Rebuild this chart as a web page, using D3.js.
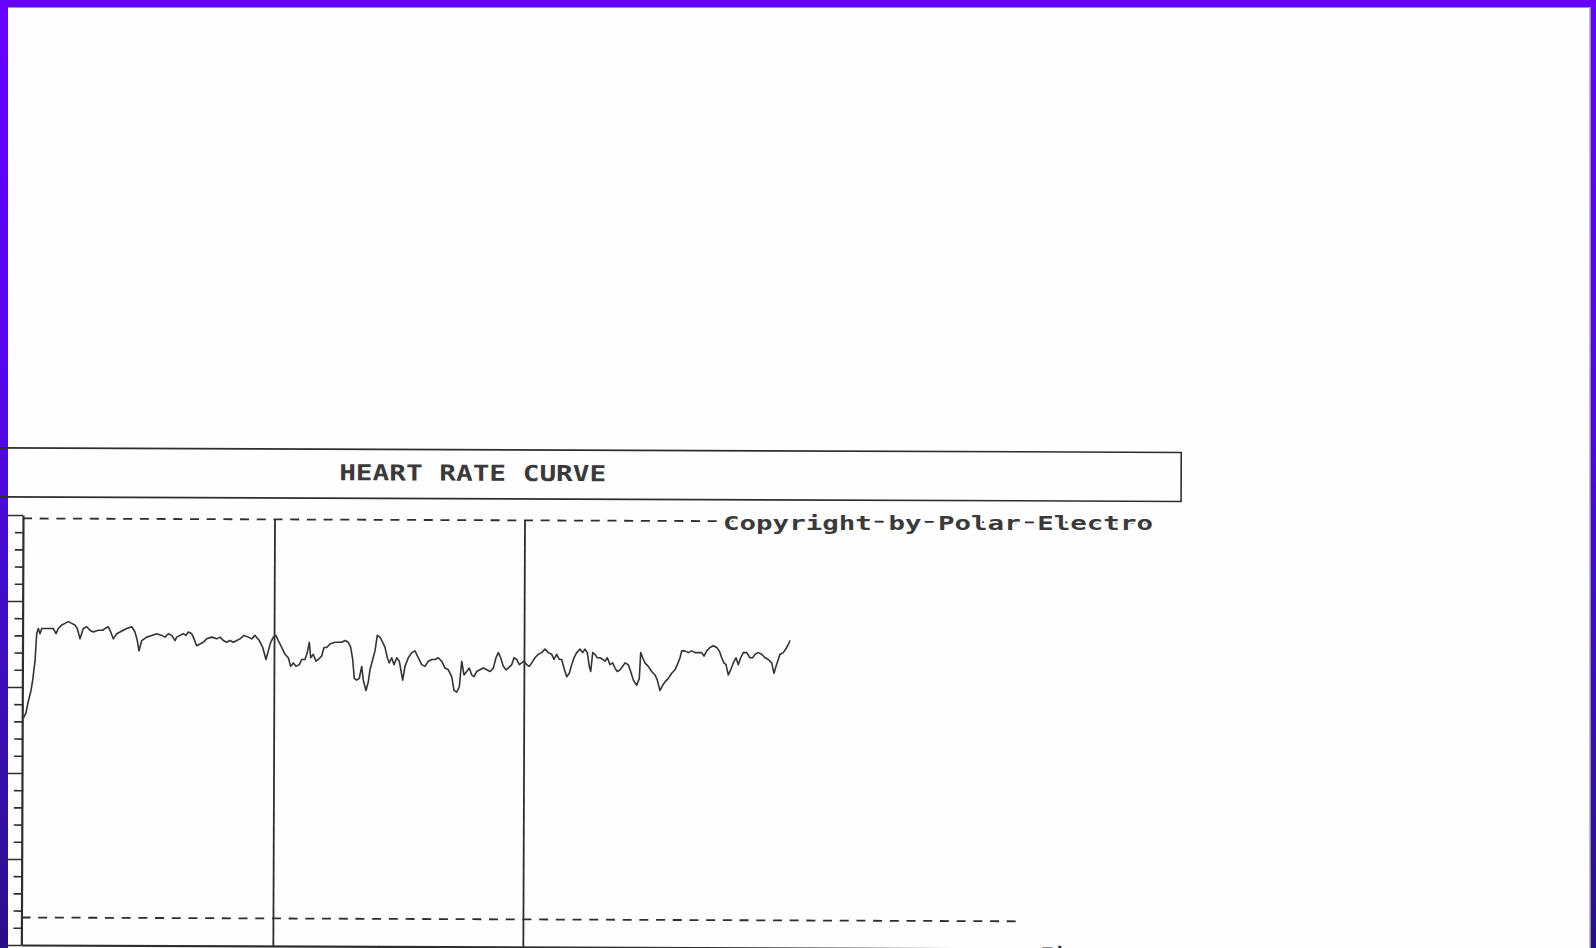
<!DOCTYPE html>
<html>
<head>
<meta charset="utf-8">
<script src="https://cdn.jsdelivr.net/npm/d3@7"></script>
<style>
  html, body { margin: 0; padding: 0; background: #fff; }
  svg { display: block; }
</style>
</head>
<body>
<svg id="chart" width="1596" height="948"></svg>
<script>
// Recording time (minutes) and heart rate (bpm) samples
const timeMin = [
  0.05, 0.30, 0.50, 0.80, 0.97, 1.20, 1.37, 1.53, 1.70, 1.87, 2.20, 2.70, 3.03, 3.30, 3.53, 3.87,
  4.20, 4.53, 4.87, 5.20, 5.43, 5.70, 6.03, 6.37, 6.70, 7.03, 7.53, 7.97, 8.20, 8.53, 8.77, 9.03,
  9.37, 9.70, 10.03, 10.37, 10.87, 11.20, 11.43, 11.60, 11.87, 12.37, 12.87, 13.37, 13.87, 14.20,
  14.53, 14.87, 15.20, 15.37, 15.70, 16.03, 16.30, 16.53, 16.87, 17.03, 17.37, 17.70, 18.03, 18.37,
  18.87, 19.37, 19.70, 20.03, 20.37, 20.70, 21.03, 21.37, 21.70, 22.10, 22.53, 22.87, 23.20, 23.63,
  23.97, 24.30, 24.53, 24.77, 25.03, 25.30, 25.53, 25.87, 26.20, 26.53, 26.77, 27.03, 27.30, 27.63,
  27.87, 28.20, 28.43, 28.63, 28.77, 29.03, 29.30, 29.53, 29.87, 30.10, 30.37, 30.70, 31.20, 31.53,
  31.87, 32.20, 32.53, 32.77, 32.97, 33.13, 33.37, 33.63, 33.87, 34.03, 34.30, 34.53, 34.70, 34.97,
  35.20, 35.43, 35.70, 35.97, 36.20, 36.43, 36.63, 36.87, 37.10, 37.37, 37.63, 37.87, 37.97, 38.20,
  38.53, 38.87, 39.20, 39.53, 39.87, 40.20, 40.53, 40.87, 41.20, 41.53, 41.87, 42.20, 42.53, 42.87,
  43.10, 43.37, 43.63, 43.87, 44.10, 44.37, 44.63, 44.87, 45.10, 45.37, 45.70, 46.03, 46.37, 46.70,
  47.03, 47.30, 47.53, 47.77, 48.03, 48.30, 48.53, 48.87, 49.10, 49.37, 49.63, 49.87, 50.10, 50.37,
  50.63, 50.87, 51.20, 51.53, 51.87, 52.20, 52.53, 52.87, 53.10, 53.37, 53.63, 53.87, 54.10, 54.37,
  54.63, 54.87, 55.10, 55.37, 55.70, 55.97, 56.20, 56.43, 56.63, 56.77, 56.97, 57.20, 57.43, 57.70,
  57.97, 58.20, 58.43, 58.70, 58.97, 59.20, 59.43, 59.70, 59.97, 60.20, 60.53, 60.77, 61.03, 61.37,
  61.63, 61.77, 61.97, 62.20, 62.53, 62.87, 63.20, 63.43, 63.70, 63.97, 64.20, 64.53, 64.87, 65.20,
  65.43, 65.70, 65.87, 66.20, 66.53, 66.87, 67.20, 67.53, 67.87, 68.10, 68.37, 68.70, 69.03, 69.37,
  69.63, 69.87, 70.10, 70.30, 70.53, 70.77, 71.03, 71.30, 71.53, 71.77, 72.03, 72.37, 72.70, 72.97,
  73.20, 73.53, 73.87, 74.20, 74.53, 74.87, 75.10, 75.30, 75.53, 75.70, 76.03, 76.37, 76.63, 76.70
];
const heartRate = [
  132, 135, 141, 148, 154, 165, 181, 184, 181, 184, 184, 184, 184, 181, 184, 186,
  187, 188, 187, 186, 184, 178, 184, 185, 183, 182, 183, 183, 184, 185, 182, 178,
  181, 182, 183, 184, 185, 182, 177, 171, 177, 179, 180, 181, 180, 179,
  181, 180, 177, 179, 180, 181, 180, 182, 181, 179, 174, 175, 176, 178,
  179, 178, 179, 177, 176, 177, 176, 177, 178, 180, 179, 178, 180, 177,
  173, 166, 171, 176, 179, 180, 177, 173, 169, 167, 162, 164, 162, 163,
  166, 166, 170, 176, 167, 169, 165, 166, 168, 173, 173, 175, 176, 176,
  176, 177, 176, 173, 166, 155, 154, 155, 162, 154, 148, 153, 160, 166,
  171, 180, 179, 176, 173, 167, 164, 167, 163, 167, 165, 157, 154, 162,
  167, 170, 171, 167, 163, 162, 165, 166, 166, 167, 165, 161, 160, 156,
  148, 147, 150, 165, 157, 159, 161, 157, 156, 159, 160, 161, 160, 159,
  161, 167, 170, 167, 162, 160, 161, 163, 167, 166, 163, 164, 165, 163,
  162, 164, 167, 169, 170, 172, 170, 169, 166, 169, 166, 166, 161, 156,
  158, 163, 167, 170, 172, 170, 172, 170, 162, 159, 170, 169, 167, 167,
  166, 165, 167, 163, 164, 161, 159, 160, 162, 164, 163, 159, 154, 151,
  155, 170, 167, 164, 162, 159, 157, 154, 148, 151, 153, 155, 158, 160,
  163, 167, 171, 171, 170, 171, 170, 170, 170, 168, 171, 173, 174, 173,
  171, 167, 164, 163, 157, 160, 164, 167, 163, 167, 170, 170, 167, 167,
  169, 170, 169, 167, 166, 164, 158, 162, 166, 169, 170, 173, 176, 177
];

// Lap markers (minutes) and the target zone limits (bpm)
const lapMarks = [25.2, 50.2];
const upperLimit = 248;
const lowerLimit = 16;

// Axis ranges
const timeDomain = [0, 100];
const hrDomain = [0, 250];
const hrTickStep = 10;
const hrMajorStep = 50;

// Printed labels
const titleText = "HEART RATE CURVE";
const copyrightText = "Copyright by Polar Electro";
const xAxisLabel = "Time";

const W = 1596, H = 948;
const ink = "#2e2e2e";
const svg = d3.select("#chart");

// --- scanned page background -------------------------------------------
const defs = svg.append("defs");
const grad = defs.append("linearGradient")
  .attr("id", "frameGrad").attr("x1", 0).attr("y1", 0).attr("x2", 0).attr("y2", 1);
[[0, "#6600ff"], [0.4, "#5406ea"], [0.7, "#3d0fbe"], [1, "#27108a"]].forEach(([o, c]) =>
  grad.append("stop").attr("offset", o).attr("stop-color", c));

svg.append("rect").attr("width", W).attr("height", H).attr("fill", "url(#frameGrad)");
svg.append("rect").attr("x", 0).attr("y", 0).attr("width", W).attr("height", 7).attr("fill", "#6600ff");

// paper sheet
svg.append("rect")
  .attr("x", 8).attr("y", 7).attr("width", 1582).attr("height", H - 7)
  .attr("fill", "#fefefe");
svg.append("line").attr("x1", 8).attr("x2", 1590).attr("y1", 7.5).attr("y2", 7.5)
  .attr("stroke", "#9a9a9a").attr("stroke-width", 1);
svg.append("line").attr("x1", 1590).attr("x2", 1590).attr("y1", 7).attr("y2", H)
  .attr("stroke", "#b0b0b0").attr("stroke-width", 1.5);

// --- chart ----------------------------------------------------------------
const plot = { left: 23, right: 1023, top: 515, bottom: 945 };
const x = d3.scaleLinear().domain(timeDomain).range([plot.left, plot.right]);
const y = d3.scaleLinear().domain(hrDomain).range([plot.bottom, plot.top]);

// the ruled frame of the printout sits very slightly askew on the page
const g = svg.append("g").attr("transform", `rotate(0.22, ${plot.left}, ${plot.top})`);

// title box
g.append("rect")
  .attr("x", -4).attr("y", 448).attr("width", 1185).attr("height", 49)
  .attr("fill", "none").attr("stroke", ink).attr("stroke-width", 1.6);
g.append("text")
  .attr("x", 339).attr("y", 479)
  .attr("textLength", 267).attr("lengthAdjust", "spacingAndGlyphs")
  .attr("font-family", "'DejaVu Sans Mono', monospace")
  .attr("font-weight", "bold").attr("font-size", 22)
  .attr("fill", "#3a3a3a")
  .text(titleText);

// limit lines
g.append("line")
  .attr("x1", x(0)).attr("x2", 1150)
  .attr("y1", y(upperLimit)).attr("y2", y(upperLimit))
  .attr("stroke", ink).attr("stroke-width", 1.8).attr("stroke-dasharray", "9,7.7");
g.append("line")
  .attr("x1", x(0)).attr("x2", x(100))
  .attr("y1", y(lowerLimit)).attr("y2", y(lowerLimit))
  .attr("stroke", ink).attr("stroke-width", 1.8).attr("stroke-dasharray", "9,7.7");

// lap markers
g.selectAll("line.lap").data(lapMarks).join("line")
  .attr("class", "lap")
  .attr("x1", d => x(d)).attr("x2", d => x(d))
  .attr("y1", y(upperLimit)).attr("y2", plot.bottom)
  .attr("stroke", ink).attr("stroke-width", 1.8);

// y axis with a longer tick every 50 bpm
const yTicks = d3.range(hrDomain[0], hrDomain[1] + 1, hrTickStep);
const yAxis = g.append("g")
  .attr("transform", `translate(${plot.left},0)`)
  .call(d3.axisLeft(y).tickValues(yTicks).tickFormat("").tickSizeOuter(0));
yAxis.select(".domain").attr("stroke", ink).attr("stroke-width", 2.2);
yAxis.selectAll(".tick line")
  .attr("x2", d => d % hrMajorStep === 0 ? -16 : -8)
  .attr("stroke", ink).attr("stroke-width", 1.6);

// time axis
const xAxis = g.append("g")
  .attr("transform", `translate(0,${plot.bottom})`)
  .call(d3.axisBottom(x).tickValues([]).tickSizeOuter(0));
xAxis.select(".domain").attr("stroke", ink).attr("stroke-width", 2.2);

g.append("text")
  .attr("x", 1043).attr("y", 958)
  .attr("font-family", "'DejaVu Sans Mono', monospace").attr("font-weight", "bold")
  .attr("font-size", 20).attr("fill", "#333")
  .text(xAxisLabel);

// copyright note printed over the upper limit line
svg.append("text")
  .attr("x", 723).attr("y", 530)
  .attr("textLength", 430).attr("lengthAdjust", "spacingAndGlyphs")
  .attr("font-family", "'DejaVu Sans Mono', monospace").attr("font-weight", "bold")
  .attr("font-size", 20).attr("fill", "#3a3a3a")
  .attr("stroke", "#fefefe").attr("stroke-width", 3).attr("paint-order", "stroke")
  .text(copyrightText);

// heart rate curve
const samples = timeMin.map((t, i) => ({ t, hr: heartRate[i] }));
const line = d3.line().x(d => x(d.t)).y(d => y(d.hr)).curve(d3.curveLinear);
svg.append("path")
  .datum(samples)
  .attr("d", line)
  .attr("fill", "none")
  .attr("stroke", "#333")
  .attr("stroke-width", 1.6)
  .attr("stroke-linejoin", "round");
</script>
</body>
</html>
